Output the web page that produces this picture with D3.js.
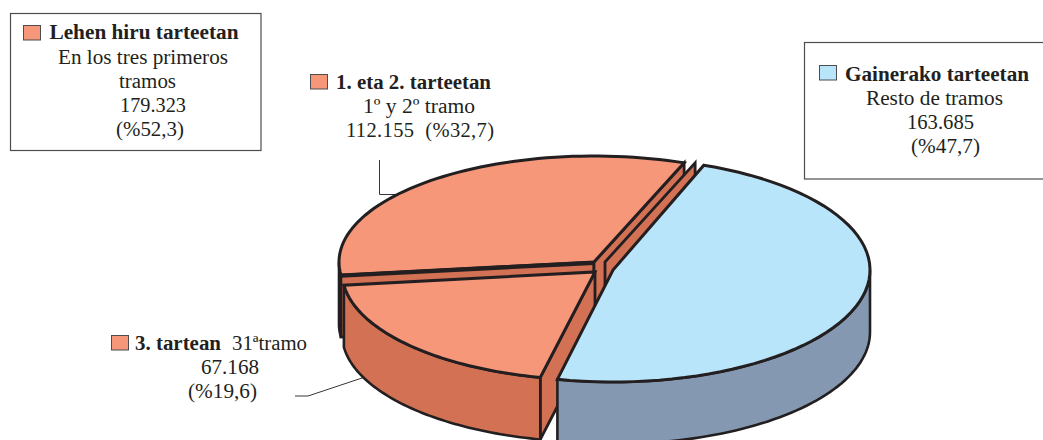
<!DOCTYPE html>
<html>
<head>
<meta charset="utf-8">
<title>Tarteak</title>
<script src="https://cdnjs.cloudflare.com/ajax/libs/d3/7.8.5/d3.min.js"></script>
<style>
    html, body { margin: 0; padding: 0; background: #fff; }
    svg { display: block; }
    text { font-family: "Liberation Serif", serif; font-size: 20.5px; fill: #231f20; }
    text.head { font-weight: bold; }
</style>
</head>
<body>
<svg id="chart" width="1043" height="440"></svg>
<script>
// Values, in drawing order round the pie
const sliceNames = ["Gainerako tarteetan", "3. tartean", "1. eta 2. tarteetan"];
const sliceValues = [163685, 67168, 112155];
const sliceShares = ["%47,7", "%19,6", "%32,7"];
const totalValue = 179323;
const totalShare = "%52,3";

// Each wedge was pulled apart by hand in the original, so each has its own centre and radii
const sliceCenters = [[613, 270], [595, 272], [594, 262]];
const sliceRadii = [[257, 112], [253, 108], [255, 106]];
const topColors = ["#b9e5fb", "#f6977a", "#f6977a"];
const sideColors = ["#8499b1", "#d37155", "#d37155"];
const depth = 62;
const startDeg = 20.7;
const inkColor = "#231f20";

const num = d3.format(",");
function thousands(v) { return num(v).replace(",", "."); }

const svg = d3.select("#chart");

const pie = d3.pie().sort(null)
    .startAngle(startDeg * Math.PI / 180)
    .endAngle(startDeg * Math.PI / 180 + 2 * Math.PI);
const arcs = pie(sliceValues);

function rim(i, a, dy) {
    return [
        sliceCenters[i][0] + sliceRadii[i][0] * Math.sin(a),
        sliceCenters[i][1] - sliceRadii[i][1] * Math.cos(a) + (dy || 0)
    ];
}

function arcPoints(i, a0, a1, dy) {
    const n = 60, pts = [];
    for (let k = 0; k <= n; k++) {
        pts.push(rim(i, a0 + (a1 - a0) * k / n, dy));
    }
    return pts;
}

const line = d3.line();
const closed = d3.line().curve(d3.curveLinearClosed);

function drawFace(pts, fill, width) {
    svg.append("path")
        .attr("d", closed(pts))
        .attr("fill", fill)
        .attr("stroke", inkColor)
        .attr("stroke-width", width)
        .attr("stroke-linejoin", "miter");
}

// Outer wall between two angles
function drawWall(i, a0, a1, fill) {
    const upper = arcPoints(i, a0, a1, 0);
    const lower = arcPoints(i, a1, a0, depth);
    drawFace(upper.concat(lower), fill || sideColors[i], 2.6);
}

// Flat cut wall from the centre to the rim, shifted sideways by dx
function drawCut(i, a, dx) {
    const c = sliceCenters[i];
    const p = rim(i, a);
    drawFace([
        [c[0] + dx, c[1]],
        [p[0] + dx, p[1]],
        [p[0] + dx, p[1] + depth],
        [c[0] + dx, c[1] + depth]
    ], sideColors[i], 2.8);
}

function drawTop(i) {
    const pts = arcPoints(i, arcs[i].startAngle, arcs[i].endAngle, 0);
    pts.push(sliceCenters[i]);
    drawFace(pts, topColors[i], 3);
}

// Leader lines go under the pie
function leader(pts) {
    svg.append("path")
        .attr("d", line(pts))
        .attr("fill", "none")
        .attr("stroke", "#3a3637")
        .attr("stroke-width", 1);
}
leader([[379.5, 160], [379.5, 194.5], [410, 194.5]]);
leader([[295, 396], [308, 396], [368, 376]]);

// Wedge 1-2 (back left); its sliver of outer wall reads as solid black in the original
const a12 = arcs[2];
drawWall(2, a12.startAngle, 1.5 * Math.PI, inkColor);
drawCut(2, a12.startAngle, 0);
drawCut(2, a12.endAngle, 0);
drawCut(2, a12.endAngle, 11);

// Wedge 3 (front left)
const a3 = arcs[1];
drawCut(1, a3.startAngle, 0);
drawWall(1, a3.startAngle, a3.endAngle);
drawTop(1);
drawTop(2);

// The front edge of wedge 1-2 is drawn heavier
svg.append("path")
    .attr("d", line([rim(2, a12.startAngle, 0.8), [sliceCenters[2][0], sliceCenters[2][1] + 0.8]]))
    .attr("stroke", inkColor)
    .attr("stroke-width", 4.2);

// Blue wedge, drawn last since it sits over the cut walls
const aBlue = arcs[0];
drawWall(0, Math.PI / 2, aBlue.endAngle);
drawTop(0);

// Boxes and legend
function box(x, y, w, h) {
    svg.append("rect")
        .attr("x", x).attr("y", y).attr("width", w).attr("height", h)
        .attr("fill", "none")
        .attr("stroke", "#4d4d4f")
        .attr("stroke-width", 1.2);
}
box(10.5, 13.5, 250.5, 137);
box(804.5, 42.5, 260, 136.5);

function swatch(x, y, fill) {
    svg.append("rect")
        .attr("x", x).attr("y", y).attr("width", 17).attr("height", 14.5)
        .attr("fill", fill)
        .attr("stroke", "#4d4d4f")
        .attr("stroke-width", 1);
}
swatch(23.5, 25.5, topColors[2]);
swatch(310.5, 74.5, topColors[2]);
swatch(111.5, 335.5, topColors[1]);
swatch(819.5, 65.5, topColors[0]);

function label(str, x, y, w, bold) {
    svg.append("text")
        .attr("class", bold ? "head" : null)
        .attr("x", x).attr("y", y)
        .attr("textLength", w)
        .attr("lengthAdjust", "spacingAndGlyphs")
        .text(str);
}

label("Lehen hiru tarteetan", 49.5, 39, 189, true);
label("En los tres primeros", 58, 64, 170);
label("tramos", 119, 88, 57);
label(thousands(totalValue), 120, 112, 66);
label("(" + totalShare + ")", 116, 136, 68);

label(sliceNames[2], 336, 88.5, 155, true);
label("1º y 2º tramo", 363, 113, 112);
svg.append("text").attr("x", 346).attr("y", 137).attr("textLength", 148)
    .attr("xml:space", "preserve").style("white-space", "pre")
    .text(thousands(sliceValues[2]) + "  (" + sliceShares[2] + ")");

label(sliceNames[1], 135, 350, 86, true);
label("31ªtramo", 232, 350, 75);
label(thousands(sliceValues[1]), 201, 374, 58);
label("(" + sliceShares[1] + ")", 188, 398, 69);

label(sliceNames[0], 845, 81, 184, true);
label("Resto de tramos", 866, 105, 137);
label(thousands(sliceValues[0]), 907, 129, 67);
label("(" + sliceShares[0] + ")", 911, 153, 69);
</script>
</body>
</html>
